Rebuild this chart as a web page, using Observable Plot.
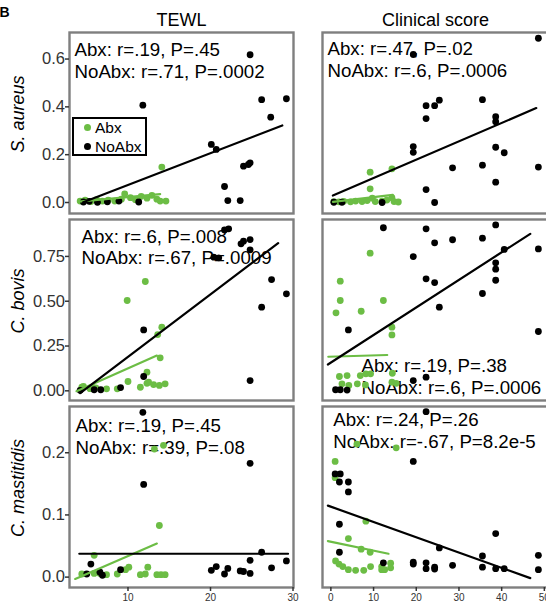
<!DOCTYPE html>
<html><head><meta charset="utf-8">
<script src="https://cdn.jsdelivr.net/npm/d3@7"></script>
<script src="https://cdn.jsdelivr.net/npm/@observablehq/plot@0.6"></script>
<style>
html,body{margin:0;padding:0;background:#fff;overflow:hidden;}
#chart{position:relative;width:546px;height:603px;overflow:hidden;font-family:"Liberation Sans",Arial,sans-serif;}
#chart svg{position:absolute;left:0;top:0;}
#legend{position:absolute;left:72px;top:117px;width:71px;height:35px;border:2px solid #000;background:#fff;font-size:15.5px;}
#legend .dot{position:absolute;width:7px;height:7px;border-radius:50%;}
#legend .t{position:absolute;left:21px;line-height:16px;}
</style></head><body><div id="chart"><div id="legend"></div></div>
<script>
// ---------- labels ----------
const columnTitles = ["TEWL", "Clinical score"];
const rowTitles = ["S. aureus", "C. bovis", "C. mastitidis"];
const groups = ["Abx", "NoAbx"];

// ---------- tick values / labels ----------
const tewlTicks = [10, 20, 30];
const clinicalTicks = [0, 10, 20, 30, 40, 50];
const aureusTicks = [0, 0.2, 0.4, 0.6];
const aureusTickLabels = ["0.0", "0.2", "0.4", "0.6"];
const bovisTicks = [0, 0.25, 0.5, 0.75];
const bovisTickLabels = ["0.00", "0.25", "0.50", "0.75"];
const mastitidisTicks = [0, 0.1, 0.2];
const mastitidisTickLabels = ["0.0", "0.1", "0.2"];

// ---------- correlation annotations ----------
const annTewlAureus = "Abx: r=.19, P=.45\nNoAbx: r=.71, P=.0002";
const annClinAureus = "Abx: r=.47, P=.02\nNoAbx: r=.6, P=.0006";
const annTewlBovis = "Abx: r=.6, P=.008\nNoAbx: r=.67, P=.0009";
const annClinBovis = "Abx: r=.19, P=.38\nNoAbx: r=.6, P=.0006";
const annTewlMast = "Abx: r=.19, P=.45\nNoAbx: r=.39, P=.08";
const annClinMast = "Abx: r=.24, P=.26\nNoAbx: r=-.67, P=8.2e-5";

// ---------- points [x, relative abundance] ----------
const tewlAureusAbx = [[4.2,0.006],[4.8,0.01],[5.5,0.004],[6.2,0.012],[6.9,0.006],[7.6,0.01],[8.4,0.006],[9.2,0.014],[9.6,0.036],[10.3,0.02],[10.9,0.012],[11.6,0.026],[12.3,0.018],[12.9,0.03],[13.5,0.014],[14.1,0.148],[13.9,0.006],[14.6,0.006]];
const tewlAureusNoAbx = [[4.6,0.002],[5.3,0.005],[6.3,0.001],[7.5,0.003],[8.9,0.006],[11.3,0.002],[11.8,0.407],[20.1,0.243],[20.7,0.222],[21.7,0.067],[22.1,0.008],[23.6,0.008],[24.0,0.152],[24.6,0.159],[24.8,0.166],[24.8,0.618],[26.2,0.43],[27.3,0.357],[29.2,0.434]];
const clinAureusAbx = [[0.7,0.004],[1.9,0.003],[3.0,0.005],[4.6,0.003],[5.8,0.006],[7.3,0.004],[8.5,0.008],[9.7,0.018],[10.4,0.004],[12.0,0.006],[13.1,0.01],[14.3,0.02],[14.8,0.004],[15.8,0.002],[9.2,0.127],[14.3,0.141],[9.2,0.057]];
const clinAureusNoAbx = [[0.7,0.001],[2.6,0.001],[12.0,0.0],[48.6,0.687],[19.3,0.619],[22.3,0.405],[24.3,0.405],[25.4,0.428],[22.3,0.351],[35.5,0.43],[38.6,0.359],[38.6,0.338],[19.3,0.234],[19.3,0.21],[38.6,0.231],[40.6,0.208],[28.5,0.145],[35.5,0.156],[48.6,0.148],[38.6,0.085],[22.3,0.054],[24.3,0.0]];
const tewlBovisAbx = [[4.4,0.02],[4.6,0.024],[5.4,0.012],[5.7,0.02],[6.1,0.017],[7.4,0.011],[8.7,0.011],[10.0,0.052],[11.5,0.02],[12.3,0.042],[12.5,0.048],[13.1,0.035],[13.8,0.03],[14.5,0.039],[12.3,0.104],[13.9,0.184],[13.6,0.314],[14.1,0.355],[9.9,0.504],[12.1,0.61]];
const tewlBovisNoAbx = [[4.2,0.003],[5.9,0.006],[6.7,0.006],[9.1,0.018],[11.9,0.08],[11.9,0.34],[20.4,0.746],[21.0,0.742],[21.7,0.898],[22.2,0.904],[23.7,0.82],[24.0,0.835],[24.8,0.844],[24.8,0.787],[27.4,0.621],[29.2,0.541],[26.2,0.467],[24.8,0.057]];
const clinBovisAbx = [[9.2,0.768],[2.2,0.612],[2.2,0.504],[1.2,0.435],[7.1,0.444],[12.3,0.504],[14.3,0.355],[14.3,0.312],[3.8,0.085],[6.9,0.085],[8.2,0.095],[9.3,0.095],[14.4,0.098],[2.0,0.08],[2.6,0.039],[4.2,0.03],[6.2,0.039],[8.1,0.033],[14.3,0.048],[15.3,0.042]];
const clinBovisNoAbx = [[12.3,0.91],[22.3,0.904],[38.6,0.926],[24.3,0.826],[28.5,0.843],[35.5,0.852],[40.6,0.789],[48.6,0.792],[19.3,0.749],[38.6,0.714],[38.6,0.679],[38.6,0.617],[22.3,0.625],[24.3,0.604],[35.5,0.543],[25.4,0.467],[4.1,0.34],[48.6,0.331],[19.3,0.057],[22.3,0.076],[1.1,0.006],[2.2,0.006],[3.8,0.004]];
const tewlMastAbx = [[4.4,0.005],[5.9,0.035],[5.9,0.006],[6.6,0.006],[7.4,0.004],[8.7,0.005],[9.7,0.012],[10.1,0.016],[11.5,0.004],[12.1,0.005],[12.4,0.016],[13.5,0.004],[14.0,0.004],[14.5,0.004],[13.8,0.083],[13.2,0.206],[14.3,0.212]];
const tewlMastNoAbx = [[11.8,0.265],[11.9,0.149],[24.8,0.183],[26.2,0.04],[29.2,0.026],[24.8,0.027],[27.4,0.015],[24.8,0.006],[24.0,0.009],[23.6,0.01],[22.1,0.014],[21.7,0.005],[20.7,0.017],[20.1,0.011],[5.5,0.021],[5.0,0.005],[6.6,0.008],[6.9,0.003],[9.1,0.012]];
const clinMastAbx = [[15.3,0.208],[6.1,0.214],[1.0,0.186],[1.0,0.16],[8.2,0.09],[4.1,0.062],[7.1,0.045],[9.2,0.04],[1.1,0.026],[1.9,0.021],[2.8,0.017],[4.1,0.012],[5.8,0.011],[7.7,0.011],[9.3,0.017],[11.9,0.017],[11.9,0.012],[12.6,0.012],[14.0,0.0225],[14.0,0.015]];
const clinMastNoAbx = [[22.3,0.266],[19.3,0.186],[1.0,0.166],[2.2,0.166],[2.0,0.153],[4.1,0.153],[4.1,0.137],[2.0,0.085],[2.0,0.04],[38.6,0.07],[25.4,0.047],[35.5,0.034],[48.6,0.035],[48.6,0.012],[35.5,0.016],[38.6,0.0135],[40.6,0.0135],[28.5,0.019],[24.3,0.016],[24.3,0.013],[22.3,0.023],[22.3,0.0135],[19.3,0.024],[19.3,0.021],[12.3,0.023]];

// ---------- fitted lines (end points) ----------
const fitTewlAureusAbx = [[4.0,0.004],[13.9,0.035]];
const fitTewlAureusNoAbx = [[4.57,0.001],[28.7,0.322]];
const fitClinAureusAbx = [[0.5,0.003],[14.5,0.032]];
const fitClinAureusNoAbx = [[0.47,0.029],[48.1,0.395]];
const fitTewlBovisAbx = [[3.76,-0.002],[13.5,0.197]];
const fitTewlBovisNoAbx = [[4.2,-0.013],[28.2,0.824]];
const fitClinBovisAbx = [[-0.6,0.19],[13.2,0.2]];
const fitClinBovisNoAbx = [[-0.7,0.147],[46.7,0.876]];
const fitTewlMastAbx = [[3.6,-0.003],[13.5,0.054]];
const fitTewlMastNoAbx = [[4.1,0.0376],[29.4,0.0376]];
const fitClinMastAbx = [[-0.7,0.058],[13.5,0.0376]];
const fitClinMastNoAbx = [[-0.7,0.115],[46.7,-0.0016]];

// ---------- layout ----------
const GREEN = "#6cbd45";
const W = 552, H = 603;
const FONT = "'Liberation Sans', Arial, Helvetica, sans-serif";
const cols = [
  {left: 69, right: 293, domain: [2.91, 30.06], ticks: tewlTicks, title: columnTitles[0]},
  {left: 322, right: 548, domain: [-1.96, 50.97], ticks: clinicalTicks, title: columnTitles[1]}
];
const rows = [
  {top: 32, bottom: 213, domain: [-0.046, 0.711], ticks: aureusTicks, labels: aureusTickLabels, name: rowTitles[0]},
  {top: 219, bottom: 400, domain: [-0.054, 0.956], ticks: bovisTicks, labels: bovisTickLabels, name: rowTitles[1]},
  {top: 406, bottom: 587, domain: [-0.0167, 0.2744], ticks: mastitidisTicks, labels: mastitidisTickLabels, name: rowTitles[2]}
];
const panels = [
  {r: 0, c: 0, abx: tewlAureusAbx, no: tewlAureusNoAbx, fa: fitTewlAureusAbx, fn: fitTewlAureusNoAbx, ann: annTewlAureus, anchor: "top-left", dx: 5, dy: 45},
  {r: 0, c: 1, abx: clinAureusAbx, no: clinAureusNoAbx, fa: fitClinAureusAbx, fn: fitClinAureusNoAbx, ann: annClinAureus, anchor: "top-left", dx: 5, dy: 44},
  {r: 1, c: 0, abx: tewlBovisAbx, no: tewlBovisNoAbx, fa: fitTewlBovisAbx, fn: fitTewlBovisNoAbx, ann: annTewlBovis, anchor: "top-left", dx: 12, dy: 44.5},
  {r: 1, c: 1, abx: clinBovisAbx, no: clinBovisNoAbx, fa: fitClinBovisAbx, fn: fitClinBovisNoAbx, ann: annClinBovis, anchor: "bottom-left", dx: 39, dy: -6.7},
  {r: 2, c: 0, abx: tewlMastAbx, no: tewlMastNoAbx, fa: fitTewlMastAbx, fn: fitTewlMastNoAbx, ann: annTewlMast, anchor: "top-left", dx: 6, dy: 47.3},
  {r: 2, c: 1, abx: clinMastAbx, no: clinMastNoAbx, fa: fitClinMastAbx, fn: fitClinMastNoAbx, ann: annClinMast, anchor: "top-left", dx: 10.7, dy: 41.3}
];

const chart = document.getElementById("chart");
const px = d => d[0], py = d => d[1];

for (const p of panels) {
  const row = rows[p.r], col = cols[p.c];
  const marks = [
    Plot.text([p.ann], {frameAnchor: p.anchor, dx: p.dx, dy: p.dy, text: d => d, textAnchor: "start",
      lineAnchor: "bottom", lineHeight: 1.15, fontSize: 18.7, fill: "#000"}),
    Plot.dot(p.abx, {x: px, y: py, r: 3.4, fill: GREEN, stroke: "none"}),
    Plot.dot(p.no, {x: px, y: py, r: 3.4, fill: "#000", stroke: "none"}),
    Plot.line(p.fa, {x: px, y: py, stroke: GREEN, strokeWidth: 2.2}),
    Plot.line(p.fn, {x: px, y: py, stroke: "#000", strokeWidth: 2.2}),
    Plot.frame({stroke: "#7f7f7f", strokeWidth: 2.4})
  ];
  if (p.c === 0) {
    marks.push(Plot.axisY(row.ticks, {anchor: "left", tickSize: 4, tickPadding: 0.5, fontSize: 16.5, color: "#333",
      strokeWidth: 1.5, label: null, tickFormat: d => row.labels[row.ticks.indexOf(d)]}));
    marks.push(Plot.text([row.name], {frameAnchor: "left", rotate: -90, dx: -51, dy: -9, text: d => d, textAnchor: "middle",
      fontSize: 18, fontStyle: "italic", fill: "#000"}));
  }
  if (p.r === 2) {
    marks.push(Plot.axisX(col.ticks, {anchor: "bottom", tickSize: 4, tickPadding: 2, fontSize: 10, color: "#333",
      strokeWidth: 1.5, label: null}));
  }
  if (p.r === 0) {
    marks.push(Plot.text([col.title], {frameAnchor: "top", dy: -6.5, text: d => d, textAnchor: "middle",
      lineAnchor: "bottom", fontSize: 18, fill: "#000"}));
  }
  if (p.r === 0 && p.c === 0) {
    marks.push(Plot.text(["B"], {frameAnchor: "top-left", dx: -70, dy: -15.5, text: d => d, textAnchor: "start",
      lineAnchor: "bottom", fontSize: 14, fontWeight: "bold", fill: "#000"}));
  }
  const svg = Plot.plot({
    width: W, height: H,
    marginLeft: col.left, marginRight: W - col.right,
    marginTop: row.top, marginBottom: H - row.bottom,
    x: {domain: col.domain, axis: null},
    y: {domain: row.domain, axis: null},
    style: {background: "none", maxWidth: "none", overflow: "visible", fontFamily: FONT},
    marks
  });
  chart.appendChild(svg);
}

// legend (drawn last so it sits above the first panel)
const legend = document.getElementById("legend");
chart.appendChild(legend);
[["Abx", GREEN, 4], ["NoAbx", "#000", 23]].forEach(([name, color, top], i) => {
  const dot = document.createElement("span");
  dot.className = "dot";
  dot.style.background = color;
  dot.style.left = "10px";
  dot.style.top = (top + 1) + "px";
  legend.appendChild(dot);
  const t = document.createElement("span");
  t.className = "t";
  t.style.top = (top - 3.5) + "px";
  t.textContent = groups[i];
  legend.appendChild(t);
});
</script></body></html>
